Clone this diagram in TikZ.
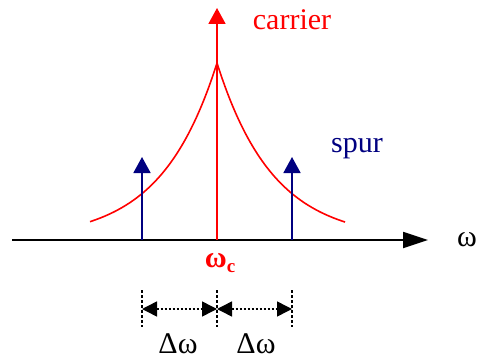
\documentclass[tikz,border=0pt]{standalone}
\usepackage{fontspec}
\setmainfont{Liberation Serif}
\usetikzlibrary{arrows.meta, positioning}
\definecolor{navy}{RGB}{0,0,128}
\tikzset{
  axis/.style={line width=1.8pt, -{Triangle[length=25pt, width=16pt]}},
  carrierline/.style={red, line width=1.8pt, -{Triangle[length=16pt, width=17pt]}},
  spurline/.style={navy, line width=1.8pt, -{Triangle[length=16pt, width=17pt]}},
  skirt/.style={red, line width=1.6pt},
  tick/.style={dash pattern=on 3pt off 2pt, line width=1.5pt},
  gap/.style={dash pattern=on 2pt off 2pt, line width=1.5pt,
              {Triangle[length=15pt, width=15pt]}-{Triangle[length=15pt, width=15pt]}},
  lbl/.style={font=\fontsize{30}{32}\selectfont, inner sep=0pt},
}

\begin{document}
\begin{tikzpicture}[x=1pt, y=-1pt]

  \useasboundingbox (0,0) rectangle (478,358);

  % frequency axis
  \coordinate (start) at (12,240);
  \coordinate (stop) at (428,240);
  \coordinate (wc) at (217,240);
  \coordinate (sL) at (142,240);
  \coordinate (sR) at (292,240);
  \draw[axis] (start) -- (stop);
  \node[lbl] (omega) at (467,240) {ω};

  % carrier and its skirt
  \coordinate (ctip) at (217,8);
  \draw[skirt] plot[domain=90:217, samples=50] (\x, {240-177*exp(-(217-\x)/56)});
  \draw[skirt] plot[domain=217:345, samples=50] (\x, {240-177*exp(-(\x-217)/56)});
  \draw[carrierline] (wc) -- (ctip);
  \node[lbl, red] (carrier) at (292,20) {carrier};
  \node[lbl, red, font=\fontsize{30}{32}\selectfont\bfseries] (wclbl) at (220,263)
    {ω\raisebox{-5pt}{\fontsize{19}{19}\selectfont c}};

  % spurs
  \coordinate (sLtip) at (142,157);
  \coordinate (sRtip) at (292,157);
  \draw[spurline] (sL) -- (sLtip);
  \draw[spurline] (sR) -- (sRtip);
  \node[lbl, navy] (spur) at (357,149) {spur};

  % offsets
  \coordinate (tL1) at (142,290); \coordinate (tL2) at (142,327);
  \coordinate (tM1) at (217,290); \coordinate (tM2) at (217,327);
  \coordinate (tR1) at (292,290); \coordinate (tR2) at (292,327);
  \coordinate (mL) at (142,309);
  \coordinate (mM) at (217,309);
  \coordinate (mR) at (292,309);
  \draw[tick] (tL1) -- (tL2);
  \draw[tick] (tM1) -- (tM2);
  \draw[tick] (tR1) -- (tR2);
  \draw[gap] (mL) -- (mM);
  \draw[gap] (mM) -- (mR);
  \node[lbl, anchor=base] (dwL) at (178,353) {Δω};
  \node[lbl, anchor=base] (dwR) at (256,353) {Δω};

\end{tikzpicture}
\end{document}
